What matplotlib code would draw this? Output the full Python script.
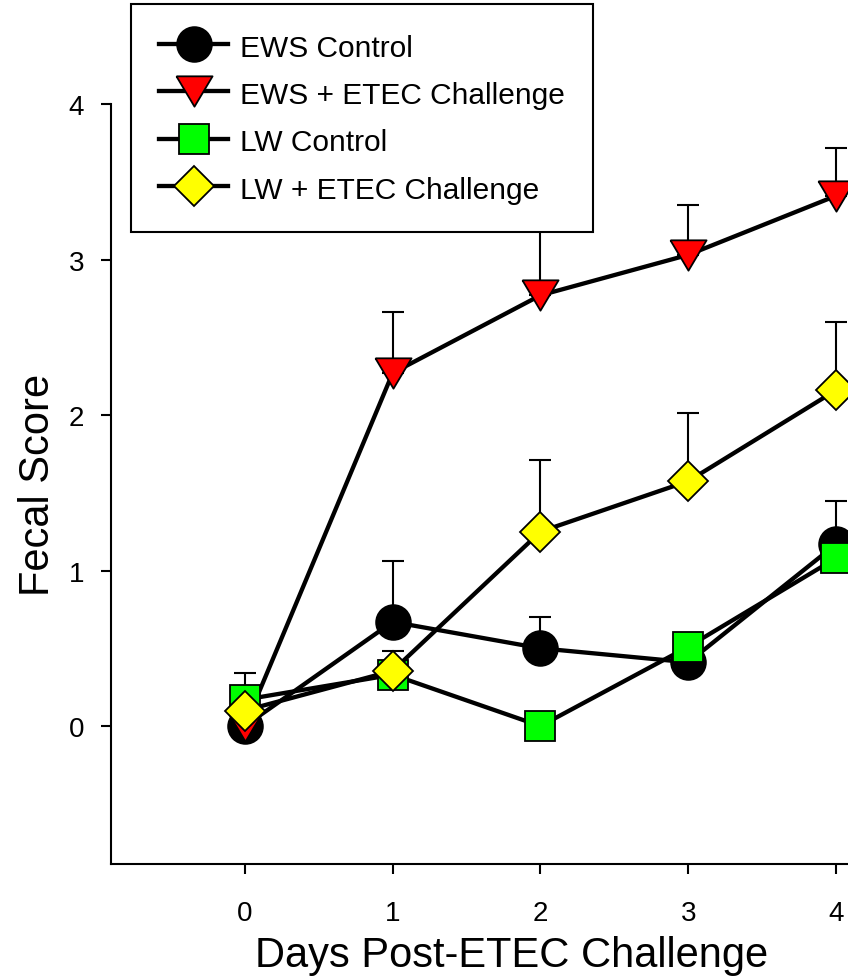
import numpy as np
import matplotlib
matplotlib.use("Agg")
import matplotlib.pyplot as plt
from matplotlib.lines import Line2D

plt.rcParams["font.family"] = ["Liberation Sans", "DejaVu Sans"]

# Dữ liệu
days = [0, 1, 2, 3, 4]
labels = ["EWS Control", "EWS + ETEC Challenge", "LW Control", "LW + ETEC Challenge"]

ews_ctrl = [0.00, 0.67, 0.50, 0.41, 1.17]
ews_ctrl_err = [0.00, 0.39, 0.20, 0.00, 0.28]

ews_etec = [0.00, 2.27, 2.77, 3.03, 3.41]
ews_etec_err = [0.00, 0.39, 0.60, 0.32, 0.31]

lw_ctrl = [0.17, 0.33, 0.00, 0.51, 1.08]
lw_ctrl_err = [0.17, 0.15, 0.00, 0.00, 0.00]

lw_etec = [0.10, 0.355, 1.25, 1.575, 2.16]
lw_etec_err = [0.00, 0.00, 0.46, 0.44, 0.44]

# marker tam giác ngược hơi dẹt
tri_down = [(-1, 0.84), (1, 0.84), (0, -0.84), (-1, 0.84)]

styles = [
    dict(marker="o", ms=25, mfc="black"),
    dict(marker=tri_down, ms=26, mfc="#ff0000"),
    dict(marker="s", ms=21, mfc="#00ff00"),
    dict(marker="D", ms=20, mfc="#ffff00"),
]
series = [(ews_ctrl, ews_ctrl_err), (ews_etec, ews_etec_err),
          (lw_ctrl, lw_ctrl_err), (lw_etec, lw_etec_err)]

fig = plt.figure(figsize=(8.48, 9.79), dpi=100)
ax = fig.add_axes([111 / 848, 114 / 979, 737 / 848, 760 / 979])

handles = []
for i, ((vals, errs), st) in enumerate(zip(series, styles)):
    vals = np.array(vals)
    errs = np.array(errs)
    ax.errorbar(days, vals, yerr=[np.zeros_like(errs), errs], fmt="none",
                ecolor="black", elinewidth=1.5, capsize=8, capthick=1.5,
                zorder=2 + i * 2)
    ax.plot(days, vals, color="black", lw=3.1, marker=st["marker"], ms=st["ms"],
            mfc=st["mfc"], mec="black", mew=1.3, zorder=3 + i * 2)
    handles.append(Line2D([], [], color="black", lw=3.1, marker=st["marker"],
                          ms=st["ms"], mfc=st["mfc"], mec="black", mew=1.3))

ax.set_xlim(-0.905, 4.08)
ax.set_ylim(-0.887, 4)
ax.set_xticks(days)
ax.set_yticks([0, 1, 2, 3, 4])

for s in ["top", "right"]:
    ax.spines[s].set_visible(False)
for s in ["left", "bottom"]:
    ax.spines[s].set_linewidth(1.5)

ax.tick_params(axis="both", direction="out", length=7.2, width=1.5, labelsize=20)
ax.tick_params(axis="x", pad=19)
ax.tick_params(axis="y", pad=12)

ax.set_xlabel("Days Post-ETEC Challenge", fontsize=30)
ax.set_ylabel("Fecal Score", fontsize=30)
ax.xaxis.set_label_coords(0.544, -0.094)
ax.yaxis.set_label_coords(-0.072, 0.5)

leg = ax.legend(handles, labels, loc="upper left",
                bbox_to_anchor=(131 / 848, 1 - 5 / 979),
                bbox_transform=fig.transFigure, borderaxespad=0,
                fontsize=21.5, numpoints=1, handlelength=2.3,
                handleheight=0.98, handletextpad=0.4, labelspacing=0.6,
                borderpad=0.95, fancybox=False, framealpha=1,
                edgecolor="black")
leg.get_frame().set_linewidth(1.5)
leg.set_zorder(20)

fig.savefig("out.png", dpi=100)
